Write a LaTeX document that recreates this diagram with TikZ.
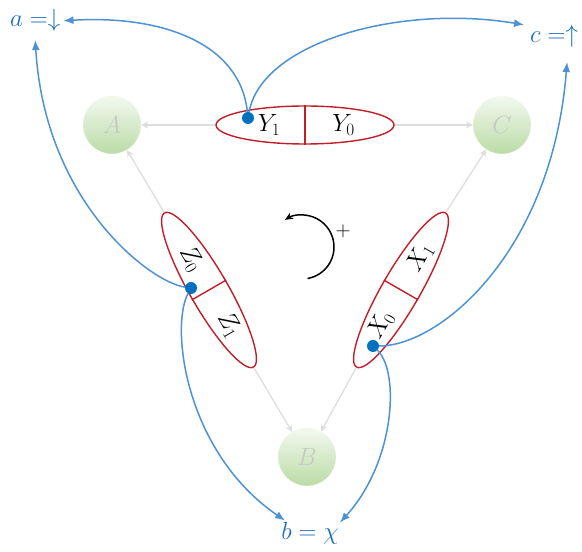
\documentclass[tikz,border=0pt]{standalone}
\usepackage{tikz}
\usetikzlibrary{arrows.meta, calc, positioning, shapes.geometric}
\definecolor{linkblue}{RGB}{79,146,211}
\definecolor{labelblue}{RGB}{30,110,185}
\definecolor{dotblue}{RGB}{0,112,192}
\definecolor{factorred}{RGB}{192,30,40}
\definecolor{edgegray}{RGB}{222,222,222}
\definecolor{nodetop}{RGB}{243,248,239}
\definecolor{nodebottom}{RGB}{186,220,166}
\definecolor{lettergray}{RGB}{196,204,192}

\begin{document}
\begin{tikzpicture}[x=1pt, y=1pt, >=stealth,
    var/.style={circle, minimum size=58pt, inner sep=0pt, top color=nodetop, bottom color=nodebottom, draw=nodetop, text=lettergray, font=\fontsize{23}{27}\selectfont},
    factor/.style={ellipse, draw=factorred, line width=1.4pt, minimum width=178pt, minimum height=38pt, inner sep=0pt},
    half/.style={font=\fontsize{24}{28}\selectfont, inner sep=1pt},
    edge/.style={draw=edgegray, line width=1.3pt, -{Stealth[length=7pt, width=7pt]}},
    link/.style={draw=linkblue, line width=1.5pt, -{Latex[length=10pt, width=8pt]}},
    spin/.style={text=labelblue, inner sep=3pt, font=\fontsize{26}{30}\selectfont},
    dot/.style={circle, fill=dotblue, minimum size=12pt, inner sep=0pt}]
    \useasboundingbox (0,0) rectangle (582,552);

    % Variables
    \node[var] (A) at (112,427) {$A$};
    \node[var] (C) at (502,427) {$C$};
    \node[var] (B) at (307,95) {$B$};

    % Factors
    \node[factor] (Y) at (305,427) {};
    \node[factor, rotate=-60] (Z) at (209,262) {};
    \node[factor, rotate=60] (X) at (401,262) {};
    \draw[factorred, line width=1.4pt] (Y.north) -- (Y.south);
    \draw[factorred, line width=1.4pt] (Z.north) -- (Z.south);
    \draw[factorred, line width=1.4pt] (X.north) -- (X.south);

    \node[half] (y1) at ($(Y.center)!0.4!(Y.west)$) {$Y_1$};
    \node[half] (y0) at ($(Y.center)!0.43!(Y.east)$) {$Y_0$};
    \node[half, rotate=-60] (z0) at ($(Z.center)!0.4!(Z.west)$) {$Z_0$};
    \node[half, rotate=-60] (z1) at ($(Z.center)!0.45!(Z.east)$) {$Z_1$};
    \node[half, rotate=60] (x1) at ($(X.center)!0.42!(X.east)$) {$X_1$};
    \node[half, rotate=60] (x0) at ($(X.center)!0.45!(X.west)$) {$X_0$};

    % Edges to variables
    \draw[edge] (Y.west) -- (A);
    \draw[edge] (Y.east) -- (C);
    \draw[edge] (Z.west) -- (A);
    \draw[edge] (Z.east) -- (B);
    \draw[edge] (X.east) -- (C);
    \draw[edge] (X.west) -- (B);

    % Spin labels
    \node[spin, anchor=base west] (a) at (7,525) {$a =\downarrow$};
    \node[spin, anchor=base west] (c) at (527,509) {$c =\uparrow$};
    \node[spin, anchor=base, font=\fontsize{28}{32}\selectfont] (b) at (310,12) {$b = \chi$};

    % Dots and links
    \node[dot] (ydot) at (248,434) {};
    \node[dot] (zdot) at (191,264) {};
    \node[dot] (xdot) at (373,206) {};

    \draw[link] (ydot) .. controls (240,510) and (160,537) .. (a.east);
    \draw[link] (ydot) .. controls (262,510) and (400,548) .. ($(c.west)+(-3,12)$);
    \draw[link] (zdot) .. controls (150,270) and (45,350) .. ($(a.south)+(0,-5)$);
    \draw[link] (zdot) .. controls (170,225) and (185,100) .. ($(b.north)+(-25,-1)$);
    \draw[link] (xdot) .. controls (440,206) and (552,300) .. ($(c.south)+(13,-11)$);
    \draw[link] (xdot) .. controls (400,180) and (395,90) .. ($(b.north)+(30,-3)$);

    % Orientation
    \coordinate (rot) at (302,305);
    \draw[-{Stealth[length=8pt, width=7pt]}, line width=1.5pt] (rot) ++(-80:32) arc[start angle=-80, end angle=122, radius=32];
    \node[font=\fontsize{22}{26}\selectfont] (plus) at (343,321) {$+$};
\end{tikzpicture}
\end{document}
